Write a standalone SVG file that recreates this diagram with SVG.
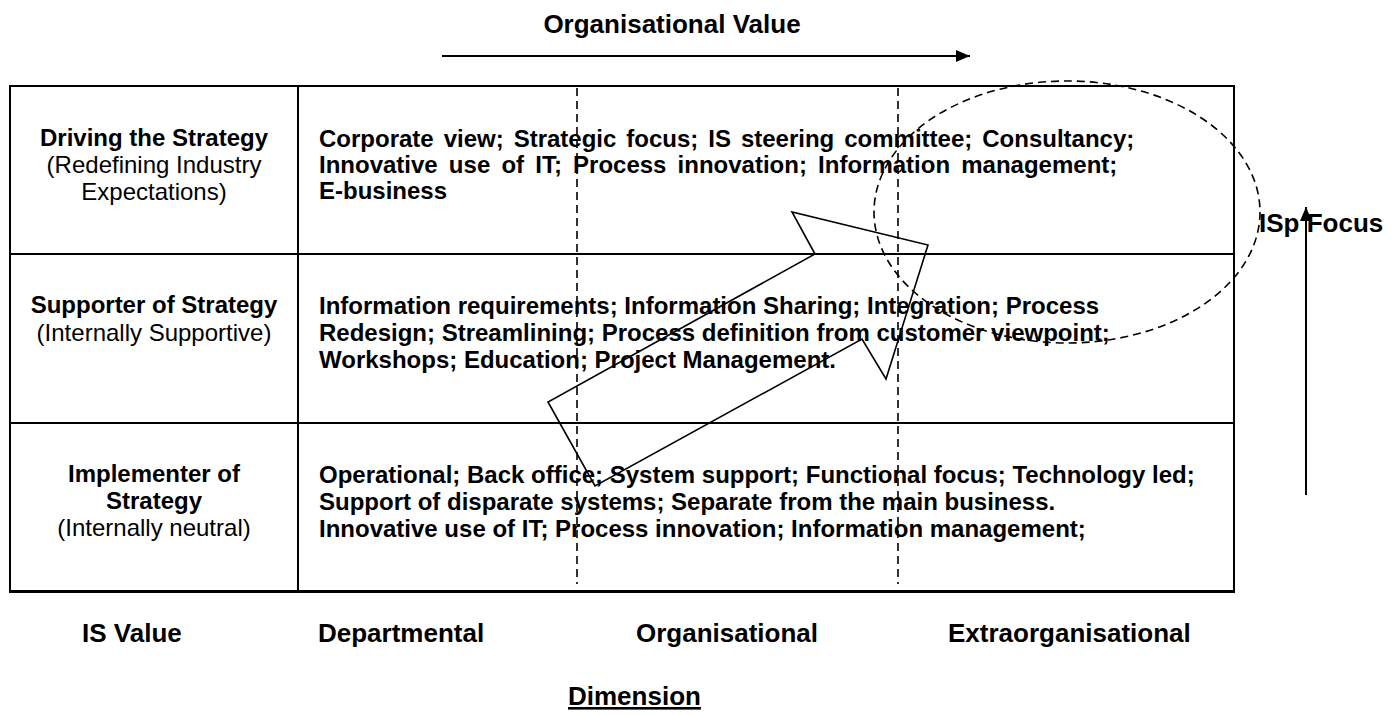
<svg xmlns="http://www.w3.org/2000/svg" width="1396" height="715" viewBox="0 0 1396 715">
<style>
.b{font-family:"Liberation Sans",Arial,sans-serif;font-weight:bold;font-size:24px;fill:#000}
.r{font-family:"Liberation Sans",Arial,sans-serif;font-size:24px;fill:#000}
.lbl{font-family:"Liberation Sans",Arial,sans-serif;font-weight:bold;font-size:26px;fill:#000}
.grid{stroke:#000;stroke-width:2;fill:none}
.dash{stroke:#000;stroke-width:1.6;stroke-dasharray:8,5;fill:none}
.solid{stroke:#000;stroke-width:1.6;fill:none}
</style>
<defs>
<marker id="ah" viewBox="0 0 14 12" refX="14" refY="6" markerWidth="14" markerHeight="12" markerUnits="userSpaceOnUse" orient="auto">
<path d="M0,0 L14,6 L0,12 Z" fill="#000"/>
</marker>
</defs>
<rect width="1396" height="715" fill="#fff"/>

<g id="title">
<text class="lbl" x="672" y="33" text-anchor="middle">Organisational Value</text>
</g>

<g id="table">
<rect class="grid" x="10" y="86" width="1224" height="505"/>
<line class="grid" x1="10" y1="254" x2="1234" y2="254"/>
<line class="grid" x1="10" y1="423" x2="1234" y2="423"/>
<line class="grid" x1="298" y1="86" x2="298" y2="591"/>
<line x1="9" y1="591.5" x2="1235" y2="591.5" stroke="#000" stroke-width="3"/>
</g>

<g id="row1">
<text class="b" x="154" y="146" text-anchor="middle">Driving the Strategy</text>
<text class="r" x="154" y="173" text-anchor="middle">(Redefining Industry</text>
<text class="r" x="154" y="200" text-anchor="middle">Expectations)</text>
<text class="b" x="319" y="147" word-spacing="3.3">Corporate view; Strategic focus; IS steering committee; Consultancy;</text>
<text class="b" x="319" y="173" word-spacing="4.5">Innovative use of IT; Process innovation; Information management;</text>
<text class="b" x="319" y="199">E-business</text>
</g>

<g id="row2">
<text class="b" x="154" y="313" text-anchor="middle">Supporter of Strategy</text>
<text class="r" x="154" y="341" text-anchor="middle">(Internally Supportive)</text>
<text class="b" x="319" y="314">Information requirements; Information Sharing; Integration; Process</text>
<text class="b" x="319" y="341">Redesign; Streamlining; Process definition from customer viewpoint;</text>
<text class="b" x="319" y="368">Workshops; Education; Project Management.</text>
</g>

<g id="row3">
<text class="b" x="154" y="482" text-anchor="middle">Implementer of</text>
<text class="b" x="154" y="509" text-anchor="middle">Strategy</text>
<text class="r" x="154" y="536" text-anchor="middle">(Internally neutral)</text>
<text class="b" x="319" y="483">Operational; Back office; System support; Functional focus; Technology led;</text>
<text class="b" x="319" y="510">Support of disparate systems; Separate from the main business.</text>
<text class="b" x="319" y="537">Innovative use of IT; Process innovation; Information management;</text>
</g>

<g id="bottom-labels">
<text class="lbl" x="82" y="642">IS Value</text>
<text class="lbl" x="318" y="642">Departmental</text>
<text class="lbl" x="636" y="642">Organisational</text>
<text class="lbl" x="948" y="642">Extraorganisational</text>
</g>

<g id="dimension">
<text class="lbl" x="568" y="705" text-decoration="underline">Dimension</text>
</g>

<g id="isp-focus">
<text class="lbl" x="1259" y="232">ISp Focus</text>
</g>

<g id="connectors">
<line class="dash" x1="577" y1="88" x2="577" y2="584"/>
<line class="dash" x1="898" y1="88" x2="898" y2="584"/>
<line x1="442" y1="56" x2="970" y2="56" stroke="#000" stroke-width="2" marker-end="url(#ah)"/>
<line x1="1306" y1="495" x2="1306" y2="207" stroke="#000" stroke-width="2" marker-end="url(#ah)"/>
<polygon class="solid" points="548,402 595,486 862,339 886,379 928,245 792,212 815,254"/>
<ellipse class="dash" cx="1067" cy="212" rx="193" ry="131"/>
</g>
</svg>
